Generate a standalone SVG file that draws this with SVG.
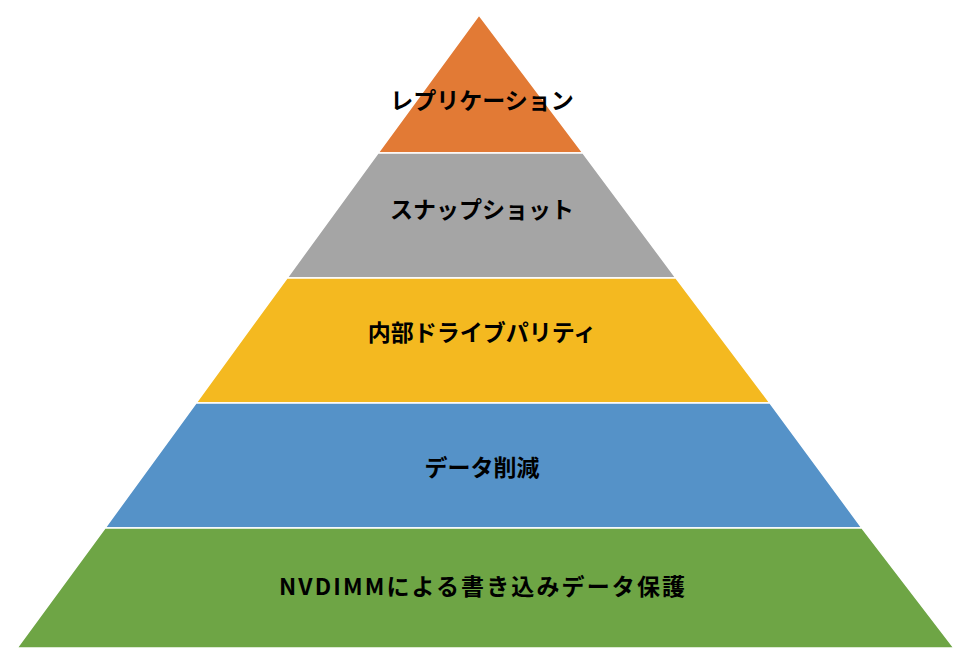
<svg xmlns="http://www.w3.org/2000/svg" width="971" height="658" viewBox="0 0 971 658">
<style>
.l{stroke:#fff;stroke-width:1.5}
text{font-family:"Noto Sans CJK JP","Noto Sans",sans-serif;font-size:23px;font-weight:bold;fill:#000;text-anchor:middle}
</style>
<rect width="971" height="658" fill="#fff"/>
<g id="n1"><polygon class="l" points="479,15 583,153 378,153" fill="#E27A35"/><text x="482" y="109">レプリケーション</text></g>
<g id="n2"><polygon class="l" points="378,153 583,153 676,278 287,278" fill="#A5A5A5"/><text x="482" y="218">スナップショット</text></g>
<g id="n3"><polygon class="l" points="287,278 676,278 770,403 196,403" fill="#F4B920"/><text x="482" y="341">内部ドライブパリティ</text></g>
<g id="n4"><polygon class="l" points="196,403 770,403 862,528 105,528" fill="#5592C8"/><text x="482" y="476">データ削減</text></g>
<g id="n5"><polygon class="l" points="105,528 862,528 954,648 17,648" fill="#6EA545"/><text x="482" y="595" textLength="406" lengthAdjust="spacing">NVDIMMによる書き込みデータ保護</text></g>
<g id="connectors"/>
</svg>
